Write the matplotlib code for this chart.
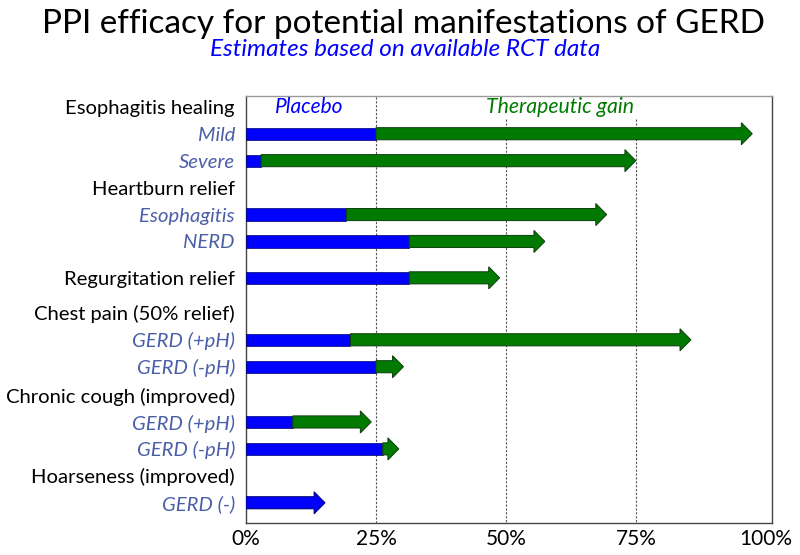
import matplotlib
matplotlib.use("Agg")
import matplotlib.pyplot as plt
from matplotlib.patches import FancyArrow

plt.rcParams["font.family"] = ["Lato", "DejaVu Sans"]

# rows top to bottom: group headers have no bar
labels = ["Esophagitis healing", "Mild", "Severe",
          "Heartburn relief", "Esophagitis", "NERD",
          "Regurgitation relief",
          "Chest pain (50% relief)", "GERD (+pH)", "GERD (-pH)",
          "Chronic cough (improved)", "GERD (+pH)", "GERD (-pH)",
          "Hoarseness (improved)", "GERD (-)"]
is_header = [True, False, False, True, False, False, True,
             True, False, False, True, False, False, True, False]
# placebo response and total PPI response (%), None = no bar
placebo = [None, 25, 2.9, None, 19.3, 31.4, 31.4,
           None, 20.1, 25, None, 9.0, 26.3, None, 15.2]
total = [None, 97.4, 75, None, 69.4, 57.5, 48.8,
         None, 85.6, 30.3, None, 24.1, 29.4, None, 15.2]

# vertical layout (row units, extra gap around regurgitation)
row_pos = [0, 1, 2, 3, 4, 5, 6.35, 7.65, 8.65, 9.65,
           10.7, 11.7, 12.7, 13.7, 14.7]

BLUE = "#0000ff"
GREEN = "#007a00"
SUB = "#4a5fa8"
SHAFT = 0.45
HEAD_W = 0.82
HEAD_L = 2.1

fig = plt.figure(figsize=(8, 5.55), dpi=100)
ax = fig.add_axes([0.3075, 0.0577, 0.6575, 0.7693])
ax.set_xlim(0, 101.2)
ax.set_ylim(15.45, -0.40)

for y, p, t in zip(row_pos, placebo, total):
    if p is None:
        continue
    if t > p:
        ax.barh(y, p, height=SHAFT, color=BLUE, edgecolor="#00006a",
                linewidth=0.5, zorder=3)
        ax.add_patch(FancyArrow(p, y, t - p, 0, width=SHAFT,
                                head_width=HEAD_W, head_length=HEAD_L,
                                length_includes_head=True, color=GREEN,
                                ec="#0d3d0d", lw=0.7, zorder=3))
    else:
        ax.add_patch(FancyArrow(0, y, p, 0, width=SHAFT,
                                head_width=HEAD_W, head_length=HEAD_L,
                                length_includes_head=True, color=BLUE,
                                ec="#00006a", lw=0.7, zorder=3))

# gridlines: 25% spans the header row, the others start below it
ax.axvline(25, color="#555555", ls=(0, (2, 1.5)), lw=0.8, zorder=1)
for g in [50, 75]:
    ax.vlines(g, 0.45, 15.45, color="#555555", ls=(0, (2, 1.5)), lw=0.8,
              zorder=1)

ax.text(12.2, 0, "Placebo", color=BLUE, style="italic", fontsize=15,
        ha="center", va="center")
ax.text(60.5, 0, "Therapeutic gain", color=GREEN, style="italic",
        fontsize=15.3, ha="center", va="center")

ax.set_yticks(row_pos)
ax.set_yticklabels(labels, fontsize=14.6)
for tl, h in zip(ax.get_yticklabels(), is_header):
    if not h:
        tl.set_color(SUB)
        tl.set_style("italic")
ax.set_xticks([0, 25, 50, 75, 100])
ax.set_xticklabels(["0%", "25%", "50%", "75%", "100%"], fontsize=15)
ax.tick_params(length=0, pad=4)
ax.tick_params(axis="y", pad=8)
for s in ax.spines.values():
    s.set_color("#444444")
    s.set_linewidth(1.0)
ax.spines["top"].set_color("#999999")

fig.text(0.505, 0.956, "PPI efficacy for potential manifestations of GERD",
         ha="center", va="center", fontsize=24)
fig.text(0.507, 0.911, "Estimates based on available RCT data",
         ha="center", va="center", fontsize=17.5, style="italic",
         color=BLUE)

fig.savefig("out.png", dpi=100)
